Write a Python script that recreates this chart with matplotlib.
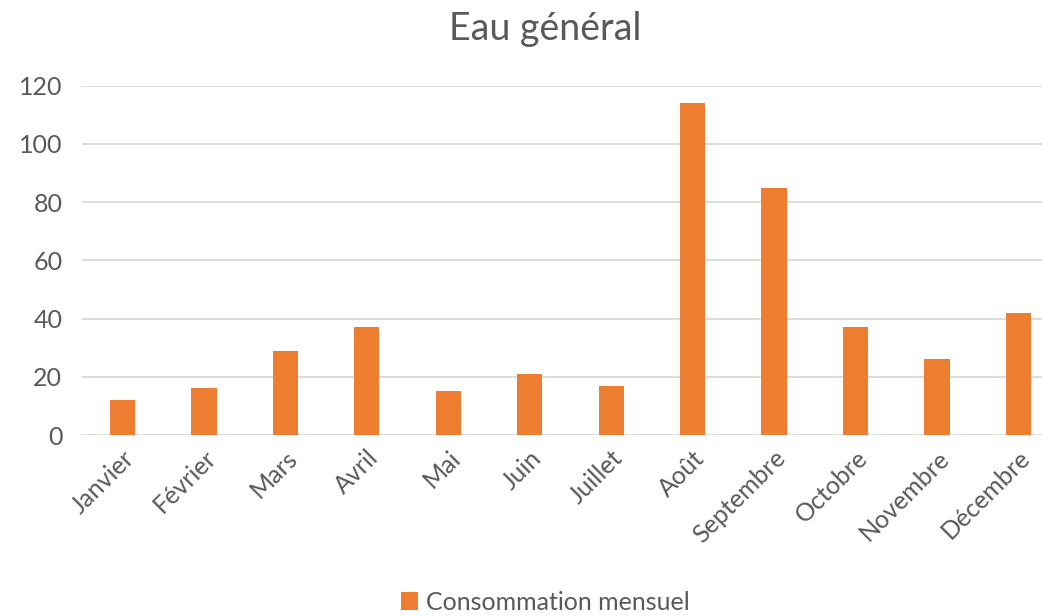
import matplotlib
matplotlib.use("Agg")
from matplotlib import pyplot as plt

# données
mois = ['Janvier', 'Février', 'Mars', 'Avril', 'Mai', 'Juin', 'Juillet',
        'Août', 'Septembre', 'Octobre', 'Novembre', 'Décembre']
consommation = [12, 16, 29, 37, 15, 21, 17, 114, 85, 37, 26, 42]
yticks = [0, 20, 40, 60, 80, 100, 120]

plt.rcParams['font.family'] = ['Lato', 'DejaVu Sans']
gris = '#595959'

fig = plt.figure(figsize=(10.42, 6.16), dpi=100)
ax = fig.add_axes([0.0785, 0.2938, 0.938, 0.567])

x = list(range(len(mois)))
ax.bar(x, consommation, width=0.31, color='#ED7D31', label='Consommation mensuel',
       zorder=3)

ax.set_xlim(-0.5, len(mois) - 0.5)
ax.set_ylim(0, 120)
ax.set_yticks(yticks)
ax.set_xticks(x)
ax.set_xticklabels(mois, rotation=45, ha='right', rotation_mode='anchor')
ax.tick_params(axis='both', length=0, labelsize=18, colors=gris)
ax.tick_params(axis='x', pad=8)
ax.tick_params(axis='y', pad=14)
ax.grid(axis='y', color='#D9D9D9', linewidth=1.3, zorder=0)
for s in ax.spines.values():
    s.set_visible(False)

# titre et légende
fig.text(0.523, 0.953, 'Eau général', ha='center', va='center', fontsize=27, color=gris)
fig.legend(*ax.get_legend_handles_labels(), loc='center', bbox_to_anchor=(0.523, 0.022),
           frameon=False, fontsize=18, labelcolor=gris, handlelength=0.7,
           handleheight=0.7, handletextpad=0.3)

fig.savefig('out.png', dpi=100)
